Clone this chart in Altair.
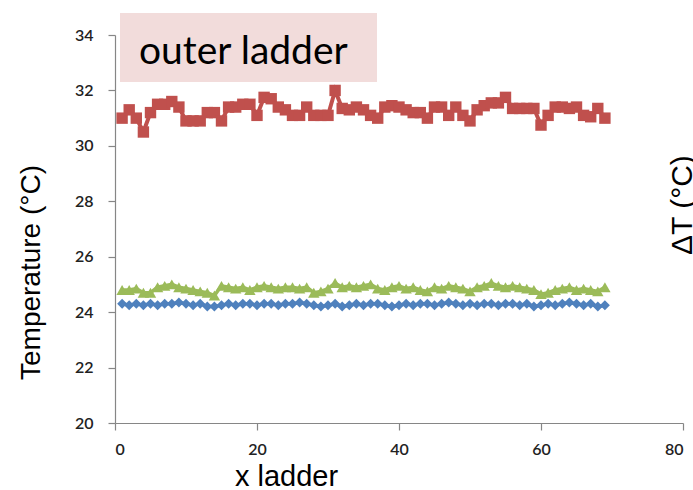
import altair as alt
import pandas as pd

x_vals = list(range(1, 70))

red = [31.0, 31.3, 31.0, 30.5, 31.2, 31.5, 31.5, 31.6, 31.4, 30.9,
       30.9, 30.9, 31.2, 31.2, 30.9, 31.4, 31.4, 31.5, 31.5, 31.1,
       31.75, 31.7, 31.4, 31.3, 31.1, 31.1, 31.4, 31.1, 31.1, 31.1,
       32.0, 31.35, 31.3, 31.4, 31.3, 31.1, 31.0, 31.4, 31.45, 31.4,
       31.3, 31.2, 31.2, 31.0, 31.4, 31.4, 31.1, 31.4, 31.1, 30.9,
       31.3, 31.45, 31.55, 31.55, 31.75, 31.35, 31.35, 31.35, 31.35, 30.75,
       31.1, 31.4, 31.4, 31.35, 31.4, 31.1, 31.05, 31.35, 31.0]

green = [24.8, 24.8, 24.85, 24.7, 24.7, 24.9, 24.95, 25.0, 24.9, 24.85,
         24.8, 24.75, 24.7, 24.6, 24.95, 24.9, 24.85, 24.9, 24.8, 24.9,
         24.95, 24.9, 24.85, 24.9, 24.9, 24.85, 24.9, 24.7, 24.75, 24.85,
         25.05, 24.9, 24.95, 24.9, 24.95, 25.0, 24.85, 24.8, 24.9, 24.95,
         24.85, 24.9, 24.8, 24.75, 24.9, 24.85, 24.95, 24.9, 24.85, 24.75,
         24.9, 24.95, 25.05, 24.95, 24.9, 24.95, 24.9, 24.85, 24.8, 24.65,
         24.7, 24.8, 24.85, 24.9, 24.8, 24.85, 24.8, 24.75, 24.9]

blue = [24.3, 24.25, 24.3, 24.25, 24.3, 24.25, 24.3, 24.3, 24.35, 24.3,
        24.25, 24.3, 24.2, 24.2, 24.25, 24.3, 24.25, 24.3, 24.3, 24.25,
        24.3, 24.3, 24.25, 24.3, 24.3, 24.35, 24.3, 24.25, 24.2, 24.25,
        24.3, 24.2, 24.25, 24.3, 24.25, 24.3, 24.3, 24.25, 24.2, 24.25,
        24.3, 24.25, 24.3, 24.3, 24.25, 24.3, 24.35, 24.3, 24.25, 24.3,
        24.25, 24.3, 24.3, 24.25, 24.3, 24.3, 24.25, 24.3, 24.2, 24.25,
        24.3, 24.25, 24.3, 24.35, 24.3, 24.25, 24.3, 24.2, 24.25]

x_ticks = [0, 20, 40, 60, 80]
y_ticks = [20, 22, 24, 26, 28, 30, 32, 34]

series = [
    ("blue", blue, "#4F81BD", "diamond", 100, 3.5),
    ("red", red, "#C0504D", "square", 130, 4),
    ("green", green, "#9BBB59", "triangle-up", 130, 3.5),
]

rows = []
for name, vals, *_ in series:
    for xv, yv in zip(x_vals, vals):
        rows.append({"x": xv, "y": yv, "s": name})
df = pd.DataFrame(rows)

x_enc = alt.X("x:Q", scale=alt.Scale(domain=[0, 80], nice=False),
              axis=alt.Axis(values=x_ticks, title="x ladder", grid=False,
                            tickSize=7, labelPadding=11,
                            titleX=171, titleY=53, titleBaseline="middle",
                            titleAlign="center", titleFontSize=29,
                            titleFont="Liberation Sans", titleFontWeight="normal",
                            titleColor="black"))
y_enc = alt.Y("y:Q", scale=alt.Scale(domain=[20, 34], nice=False, zero=False),
              axis=alt.Axis(values=y_ticks, title="Temperature (°C)", grid=False,
                            tickSize=7, labelPadding=15,
                            titleX=-84, titleY=237, titleBaseline="middle",
                            titleAlign="center", titleAngle=270, titleFontSize=28,
                            titleFont="Liberation Sans", titleFontWeight="normal",
                            titleColor="black"))

layers = []
for name, vals, color, shape, size, sw in series:
    base = alt.Chart(df).transform_filter(alt.datum.s == name)
    line = base.mark_line(color=color, strokeWidth=sw).encode(x=x_enc, y=y_enc)
    pts = base.mark_point(shape=shape, size=size, filled=True, color=color,
                          opacity=1).encode(x=x_enc, y=y_enc)
    layers += [line, pts]

note = pd.DataFrame({"t": ["outer ladder"]})
box = alt.Chart(note).mark_rect(color="#F2DCDB").encode(
    x=alt.value(5), x2=alt.value(262), y=alt.value(-22), y2=alt.value(47))
box_text = alt.Chart(note).mark_text(
    align="left", baseline="alphabetic", font="Lato", fontSize=39, color="black"
).encode(x=alt.value(24), y=alt.value(29), text="t:N")

right = pd.DataFrame({"t": ["ΔT (°C)"]})
right_text = alt.Chart(right).mark_text(
    angle=270, align="left", baseline="top", font="Liberation Sans",
    fontSize=30, color="black"
).encode(x=alt.value(553), y=alt.value(220), text="t:N")

chart = alt.layer(box, box_text, *layers, right_text).properties(
    width=568, height=388,
    autosize=alt.AutoSizeParams(type="none"),
    padding={"left": 115, "top": 35, "right": 10, "bottom": 67},
    background="white",
).configure_view(stroke=None).configure_axis(
    domainColor="#868686", tickColor="#868686", domainWidth=1.2, tickWidth=1.2,
    labelFont="Lato", labelFontSize=16, labelColor="#222222", labelFontWeight=600,
)

chart.save("out.html", embed_options={"renderer": "svg", "actions": False})
